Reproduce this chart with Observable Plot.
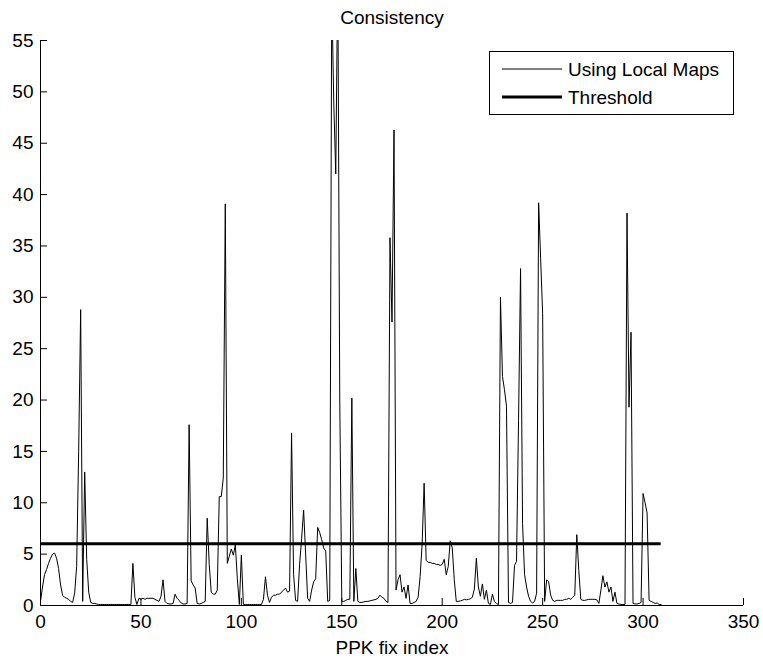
<!DOCTYPE html>
<html>
<head>
<meta charset="utf-8">
<script src="https://cdn.jsdelivr.net/npm/d3@7"></script>
<script src="https://cdn.jsdelivr.net/npm/@observablehq/plot@0.6"></script>
<style>
  html, body { margin: 0; padding: 0; background: #fff; }
  #chart svg { display: block; }
</style>
</head>
<body>
<div id="chart"></div>
<script>
// Consistency test statistic per PPK fix (index 0..309)
const consistency = [
  0.4, 1.8, 3.0, 3.5, 4.1, 4.6, 5.0, 5.1, 4.6, 3.6,
  2.0, 1.0, 0.8, 0.7, 0.6, 0.4, 0.3, 1.2, 3.8, 15.0,
  28.8, 0.4, 13.0, 4.5, 1.3, 0.3, 0.2, 0.2, 0.15, 0.1,
  0.1, 0.1, 0.1, 0.1, 0.1, 0.1, 0.1, 0.1, 0.1, 0.1,
  0.1, 0.1, 0.1, 0.1, 0.1, 0.1, 4.1, 0.8, 0.1, 0.7,
  0.6, 0.7, 0.6, 0.7, 0.7, 0.7, 0.7, 0.6, 0.5, 0.4,
  0.9, 2.5, 0.4, 0.2, 0.15, 0.15, 0.2, 1.1, 0.7, 0.5,
  0.25, 0.15, 0.15, 0.2, 17.6, 2.4, 2.0, 1.7, 0.2, 0.15,
  0.2, 0.3, 0.4, 8.5, 4.0, 1.3, 1.1, 1.1, 1.5, 10.6,
  10.6, 12.4, 39.1, 4.1, 4.8, 5.5, 4.9, 5.9, 2.6, 0.1,
  4.9, 0.1, 0.1, 0.1, 0.1, 0.1, 0.1, 0.1, 0.1, 0.1,
  0.1, 0.6, 2.8, 1.0, 0.3, 0.8, 1.0, 1.0, 1.1, 1.1,
  1.3, 1.5, 1.7, 1.3, 1.4, 16.8, 3.0, 0.5, 0.4, 4.0,
  6.5, 9.3, 5.0, 0.7, 0.4, 1.5, 2.3, 2.6, 7.6, 7.1,
  6.4, 5.6, 5.3, 0.4, 0.5, 60, 49, 42, 62, 20,
  0.4, 0.4, 0.5, 0.6, 0.6, 20.2, 0.4, 3.6, 0.4, 0.3,
  0.3, 0.35, 0.4, 0.4, 0.45, 0.5, 0.55, 0.6, 0.7, 1.0,
  0.8, 0.7, 0.4, 0.3, 35.8, 27.6, 46.3, 1.5, 2.5, 3.0,
  1.3, 1.8, 0.7, 2.0, 0.2, 0.2, 0.3, 0.4, 0.8, 2.8,
  6.0, 11.9, 4.4, 4.2, 4.2, 4.1, 4.1, 4.0, 4.0, 3.9,
  4.0, 4.5, 3.0, 3.8, 6.3, 5.6, 2.5, 0.4, 0.4, 0.45,
  0.5, 0.6, 0.55, 0.6, 0.65, 0.8, 1.6, 4.6, 1.8, 0.9,
  2.1, 0.6, 1.5, 0.2, 0.1, 1.1, 0.4, 0.2, 0.1, 30.0,
  22.3, 21.0, 19.4, 0.3, 0.2, 0.3, 3.9, 4.3, 18.0, 32.8,
  8.0, 3.0, 1.8, 0.9, 0.4, 0.25, 0.4, 1.2, 39.2, 33.8,
  28.4, 0.4, 2.5, 2.3, 1.0, 0.5, 0.4, 0.5, 0.5, 0.5,
  0.5, 0.6, 0.6, 0.7, 0.6, 0.8, 1.0, 6.9, 3.4, 0.6,
  0.5, 0.5, 0.55, 0.6, 0.6, 0.6, 0.6, 0.55, 0.2, 1.5,
  2.9, 1.8, 2.3, 1.3, 1.8, 0.4, 1.3, 0.2, 0.15, 0.1,
  0.1, 0.1, 38.2, 19.3, 26.6, 0.2, 0.15, 0.15, 0.2, 0.3,
  10.9, 10.0, 9.0, 0.5, 0.4, 0.3, 0.2, 0.25, 0.1, 0.1
];

const thresholdValue = 6;
const xTicks = [0, 50, 100, 150, 200, 250, 300, 350];
const yTicks = [0, 5, 10, 15, 20, 25, 30, 35, 40, 45, 50, 55];
const titleText = "Consistency";
const xLabelText = "PPK fix index";
const seriesNames = ["Using Local Maps", "Threshold"];

const W = 763, H = 660;
const mL = 40, mR = 20, mT = 40, mB = 55;
const frameW = W - mL - mR, frameH = H - mT - mB;
const tickLen = 7;
const font = "'Liberation Sans', Arial, Helvetica, sans-serif";
const fs = 19;

const points = consistency.map((v, i) => ({ index: i, value: v }));
const lastIndex = consistency.length - 1;

const chart = Plot.plot({
  width: W,
  height: H,
  marginLeft: mL,
  marginRight: mR,
  marginTop: mT,
  marginBottom: mB,
  style: { fontFamily: font, fontSize: fs + "px", color: "#000", background: "#fff", overflow: "visible" },
  x: { domain: [0, 350], ticks: xTicks, tickSize: 0, tickPadding: 9, label: null },
  y: { domain: [0, 55], ticks: yTicks, tickSize: 0, tickPadding: 7, label: null },
  marks: [
    // data series, clipped at the top of the axes
    Plot.line(points, { x: "index", y: "value", stroke: "#000", strokeWidth: 1, clip: true }),
    // threshold level across the fix range
    Plot.ruleY([thresholdValue], { x1: 0, x2: lastIndex, stroke: "#000", strokeWidth: 3 }),
    // axis lines
    Plot.ruleX([0], { stroke: "#000", strokeWidth: 1 }),
    Plot.ruleY([0], { stroke: "#000", strokeWidth: 1 }),
    // inward tick marks
    Plot.ruleX(xTicks, { insetTop: frameH - tickLen, stroke: "#000", strokeWidth: 1 }),
    Plot.ruleY(yTicks, { insetRight: frameW - tickLen, stroke: "#000", strokeWidth: 1 }),
    // title and axis label
    Plot.text([titleText], { frameAnchor: "top", dy: -30, fontSize: fs, fill: "#000" }),
    Plot.text([xLabelText], { frameAnchor: "bottom", dy: 48, fontSize: fs, fill: "#000" })
  ]
});

// legend box in the upper right of the axes
const svg = d3.select(chart);
const lg = svg.append("g")
  .attr("font-family", font)
  .attr("font-size", fs)
  .attr("text-anchor", "start");
const box = { x: 489.5, y: 51.5, w: 244, h: 63 };
lg.append("rect")
  .attr("x", box.x).attr("y", box.y)
  .attr("width", box.w).attr("height", box.h)
  .attr("fill", "#fff").attr("stroke", "#000").attr("stroke-width", 1);
const rows = [
  { name: seriesNames[0], y: 69, sw: 1 },
  { name: seriesNames[1], y: 97, sw: 3 }
];
rows.forEach(r => {
  lg.append("line")
    .attr("x1", 502).attr("x2", 562)
    .attr("y1", r.y).attr("y2", r.y)
    .attr("stroke", "#000").attr("stroke-width", r.sw);
  lg.append("text")
    .attr("x", 568).attr("y", r.y).attr("dy", "0.35em")
    .attr("text-anchor", "start")
    .attr("fill", "#000")
    .text(r.name);
});

document.getElementById("chart").appendChild(chart);
</script>
</body>
</html>
